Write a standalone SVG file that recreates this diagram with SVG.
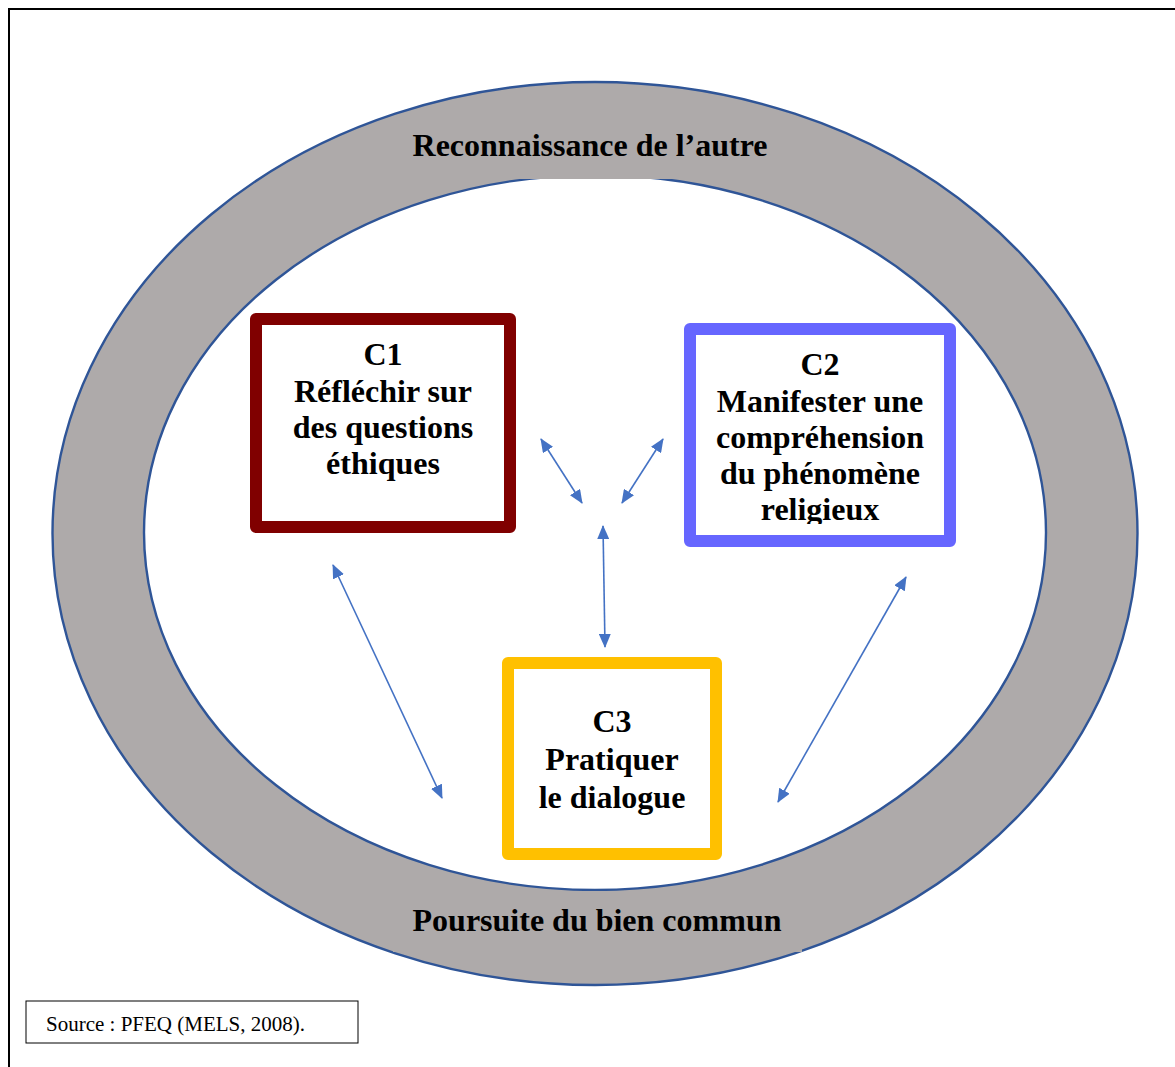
<svg xmlns="http://www.w3.org/2000/svg" width="1175" height="1067" viewBox="0 0 1175 1067">
<style>
.ring{fill:#AEAAAA;stroke:#2F5597;stroke-width:2.4}
.inner{fill:#FFFFFF;stroke:#2F5597;stroke-width:2.4}
.band{fill:#AEAAAA;stroke:none}
.lbl{font-family:"Liberation Serif","Times New Roman",serif;font-weight:bold;font-size:32px;fill:#000;text-anchor:middle}
.box{fill:#FFFFFF;stroke-width:12;stroke-linejoin:round}
.conn{stroke:#4472C4;stroke-width:1.6;fill:none;marker-start:url(#ah);marker-end:url(#ah)}
.src{font-family:"Liberation Serif","Times New Roman",serif;font-size:21px;fill:#000}
</style>
<defs>
<marker id="ah" viewBox="0 0 14 12" refX="13" refY="6" markerWidth="14" markerHeight="12" markerUnits="userSpaceOnUse" orient="auto-start-reverse">
<path d="M0,0 L14,6 L0,12 z" fill="#4472C4"/>
</marker>
<clipPath id="c2clip"><rect x="696" y="335" width="248" height="189"/></clipPath>
</defs>
<rect width="1175" height="1067" fill="#FFFFFF"/>
<g id="frame" stroke="#000" stroke-width="2" fill="none">
<line x1="8" y1="9" x2="1175" y2="9"/>
<line x1="9" y1="8" x2="9" y2="1067"/>
</g>
<g id="ring">
<ellipse class="ring" cx="595" cy="533.5" rx="542.5" ry="451.5"/>
<ellipse class="inner" cx="595" cy="532.5" rx="451" ry="357.5"/>
</g>
<g id="label-top">
<rect class="band" x="400" y="120" width="390" height="59"/>
<text class="lbl" x="590" y="156">Reconnaissance de l’autre</text>
</g>
<g id="label-bottom">
<rect class="band" x="393" y="891" width="409" height="61"/>
<text class="lbl" x="597" y="931">Poursuite du bien commun</text>
</g>
<g id="C1">
<rect class="box" x="256" y="319" width="254" height="208" stroke="#800000"/>
<text class="lbl" x="383" y="365">C1</text>
<text class="lbl" x="383" y="402">Réfléchir sur</text>
<text class="lbl" x="383" y="438">des questions</text>
<text class="lbl" x="383" y="474">éthiques</text>
</g>
<g id="C2">
<rect class="box" x="690" y="329" width="260" height="212" stroke="#6666FF"/>
<g clip-path="url(#c2clip)">
<text class="lbl" x="820" y="375">C2</text>
<text class="lbl" x="820" y="412">Manifester une</text>
<text class="lbl" x="820" y="448">compréhension</text>
<text class="lbl" x="820" y="484">du phénomène</text>
<text class="lbl" x="820" y="520">religieux</text>
</g>
</g>
<g id="C3">
<rect class="box" x="508" y="663" width="208" height="191" stroke="#FFC000"/>
<text class="lbl" x="612" y="732">C3</text>
<text class="lbl" x="612" y="770">Pratiquer</text>
<text class="lbl" x="612" y="808">le dialogue</text>
</g>
<g id="connectors">
<line class="conn" x1="541" y1="439" x2="582" y2="503"/>
<line class="conn" x1="663" y1="439" x2="622" y2="503"/>
<line class="conn" x1="603" y1="526" x2="605" y2="647"/>
<line class="conn" x1="333" y1="565" x2="442" y2="798"/>
<line class="conn" x1="906" y1="577" x2="778" y2="802"/>
</g>
<g id="source">
<rect x="26" y="1001" width="332" height="42" fill="#FFFFFF" stroke="#000" stroke-width="1"/>
<text class="src" x="46" y="1031">Source : PFEQ (MELS, 2008).</text>
</g>
</svg>
